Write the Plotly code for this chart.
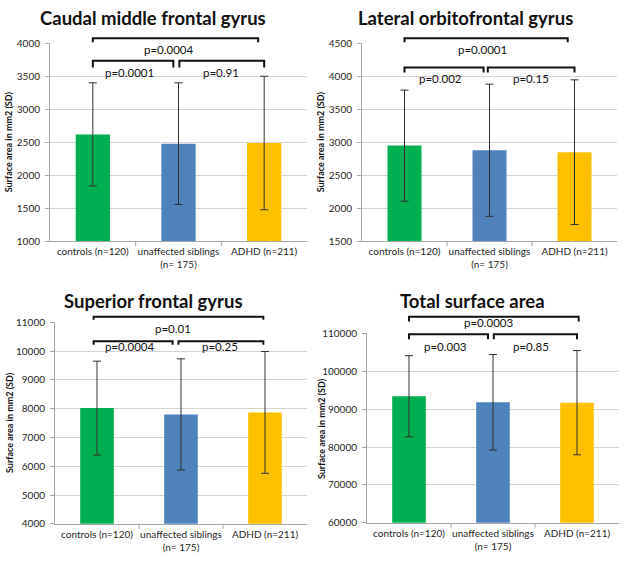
import plotly.graph_objects as go

categories = ["controls (n=120)", "unaffected siblings<br>(n= 175)", "ADHD (n=211)"]
bar_colors = ["#00B050", "#4F81BD", "#FFC000"]

titles = ["Caudal middle frontal gyrus", "Lateral orbitofrontal gyrus",
          "Superior frontal gyrus", "Total surface area"]

caudal_mean = [2620, 2480, 2490]
caudal_sd = [780, 920, 1010]
lateral_mean = [2950, 2880, 2850]
lateral_sd = [840, 1000, 1095]
superior_mean = [8020, 7800, 7870]
superior_sd = [1630, 1930, 2115]
total_mean = [93400, 91800, 91700]
total_sd = [10700, 12600, 13750]

caudal_ticks = [1000, 1500, 2000, 2500, 3000, 3500, 4000]
lateral_ticks = [1500, 2000, 2500, 3000, 3500, 4000, 4500]
superior_ticks = [4000, 5000, 6000, 7000, 8000, 9000, 10000, 11000]
total_ticks = [60000, 70000, 80000, 90000, 100000, 110000]

# p-values: (overall controls-vs-ADHD, controls-vs-siblings, siblings-vs-ADHD)
caudal_p = ["p=0.0004", "p=0.0001", "p=0.91"]
lateral_p = ["p=0.0001", "p=0.002", "p=0.15"]
superior_p = ["p=0.01", "p=0.0004", "p=0.25"]
total_p = ["p=0.0003", "p=0.003", "p=0.85"]

means = [caudal_mean, lateral_mean, superior_mean, total_mean]
sds = [caudal_sd, lateral_sd, superior_sd, total_sd]
ticks = [caudal_ticks, lateral_ticks, superior_ticks, total_ticks]
pvals = [caudal_p, lateral_p, superior_p, total_p]

W, H = 625, 565
# plot-area pixel boxes (left, right, top, bottom)
boxes = [(50, 307, 37, 240), (362, 617, 37, 240), (55, 307, 322.7, 529), (367, 619, 334, 528)]
# bracket geometry in y-domain units: (top line, top legs, lower line, lower legs)
br_y = [(1.025, 1.005, 0.911, 0.877), (1.025, 1.005, 0.877, 0.852),
        (1.028, 1.012, 0.906, 0.888), (1.088, 1.062, 0.995, 0.969)]
# bracket x extents in category units: (top x0, top x1, left x1, right x0, right x1)
br_x = [(0.0, 1.93, 0.94, 1.01, 2.0), (0.0, 1.92, 0.93, 0.98, 2.0),
        (-0.04, 1.98, 0.9, 0.97, 1.98), (0.0, 2.02, 0.94, 1.01, 2.0)]
# text positions: (x, y) for overall, left, right
txt = [((0.89, 0.970), (0.43, 0.852), (1.50, 0.852)),
       ((0.92, 0.970), (0.42, 0.823), (1.49, 0.823)),
       ((0.91, 0.968), (0.39, 0.882), (1.46, 0.882)),
       ((0.95, 1.057), (0.44, 0.933), (1.45, 0.933))]
title_pos = [(153, 11), (465, 11), (153, 301), (472, 301)]
ytitle_x = [8, 320, 9, 321]

FONT = "Lato, Carlito, Calibri, sans-serif"
fig = go.Figure()
shapes = []
annotations = []

for i in range(4):
    sfx = "" if i == 0 else str(i + 1)
    xa, ya = "x" + sfx, "y" + sfx
    l, r, t, b = boxes[i]
    fig.add_trace(go.Bar(
        x=[0, 1, 2], y=means[i], marker=dict(color=bar_colors, line=dict(width=0)),
        error_y=dict(type="data", array=sds[i], visible=True, color="#303030",
                     thickness=1, width=4),
        xaxis=xa, yaxis=ya, showlegend=False, width=0.4))
    axx = dict(domain=[l / W, r / W], anchor=ya, tickmode="array", tickvals=[0, 1, 2],
               ticktext=categories, range=[-0.5, 2.5], showgrid=False,
               showline=True, linecolor="#a6a6a6", linewidth=1, tickangle=0,
               tickfont=dict(family=FONT, size=10, color="#262626"),
               ticks="", zeroline=False, ticklabelstandoff=1)
    axy = dict(domain=[1 - b / H, 1 - t / H], anchor=xa, range=[ticks[i][0], ticks[i][-1]],
               tickmode="array", tickvals=ticks[i], ticktext=[str(v) for v in ticks[i]],
               showgrid=True, gridcolor="#d4d4d4",
               gridwidth=1, showline=True, linecolor="#a6a6a6", linewidth=1,
               ticks="outside", ticklen=4, tickcolor="#a6a6a6",
               tickfont=dict(family=FONT, size=10, color="#262626"), zeroline=False,
               ticklabelstandoff=3)
    fig.layout["xaxis" + sfx] = axx
    fig.layout["yaxis" + sfx] = axy
    # boundary tick marks on category axis
    for bx in [0.5, 1.5]:
        shapes.append(dict(type="line", xref=xa, yref=ya + " domain", x0=bx, x1=bx,
                           y0=0, y1=-0.025, line=dict(color="#a6a6a6", width=1)))
    yt, ytl, yl, yll = br_y[i]
    tx0, tx1, lx1, rx0, rx1 = br_x[i]
    for (x0, x1, yline, yleg) in [(tx0, tx1, yt, ytl), (tx0, lx1, yl, yll), (rx0, rx1, yl, yll)]:
        shapes.append(dict(type="path", xref=xa, yref=ya + " domain",
                           path=f"M {x0},{yleg} L {x0},{yline} L {x1},{yline} L {x1},{yleg}",
                           line=dict(color="#111111", width=2)))
    for (px, py), label in zip(txt[i], pvals[i]):
        annotations.append(dict(x=px, y=py, xref=xa, yref=ya + " domain", text=label,
                                showarrow=False, font=dict(family=FONT, size=11.5, color="#111111"),
                                xanchor="center", yanchor="middle"))
    tx, ty = title_pos[i]
    annotations.append(dict(x=tx / W, y=1 - ty / H, xref="paper", yref="paper",
                            text="<b>" + titles[i] + "</b>", showarrow=False,
                            font=dict(family=FONT, size=18.5, color="#111111"),
                            xanchor="center", yanchor="middle"))
    annotations.append(dict(x=ytitle_x[i] / W, y=1 - ((t + b) / 2) / H, xref="paper", yref="paper",
                            text="<b>Surface area in mm2 (SD)</b>", textangle=-90, showarrow=False,
                            font=dict(family=FONT, size=9, color="#111111"),
                            xanchor="center", yanchor="middle"))

fig.update_layout(width=W, height=H, margin=dict(l=0, r=0, t=0, b=0),
                  paper_bgcolor="white", plot_bgcolor="white",
                  shapes=shapes, annotations=annotations, bargap=0.6)
fig.write_html("out.html", config={"displayModeBar": False},
               post_script="document.body.style.margin='0';document.body.style.overflow='hidden';"
                           "document.documentElement.style.overflow='hidden';")
